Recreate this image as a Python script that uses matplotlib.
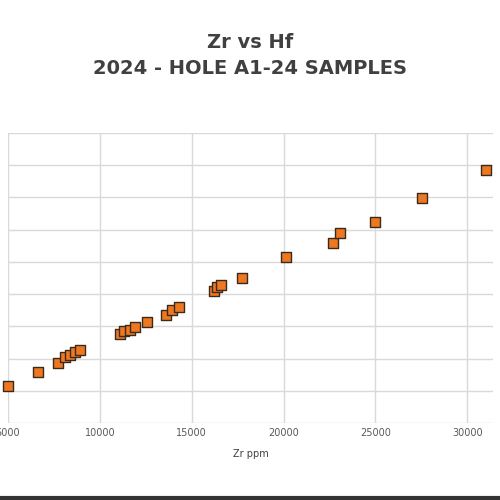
import matplotlib
matplotlib.use("Agg")
import matplotlib.pyplot as plt

zr = [5000, 6630, 7710, 8090, 8360, 8630, 8900, 11070, 11340, 11620, 11890, 12540,
      13620, 13900, 14330, 16220, 16390, 16600, 17740, 20130, 22680, 23060, 24960, 27510, 31030]
hf = [115, 158, 186, 205, 211, 220, 227, 276, 286, 289, 298, 314,
      335, 351, 360, 410, 422, 429, 450, 516, 559, 590, 624, 699, 786]
xticks = [5000, 10000, 15000, 20000, 25000, 30000]
xticklabels = ["5000", "10000", "15000", "20000", "25000", "30000"]

fig = plt.figure(figsize=(5, 5), dpi=100)
ax = fig.add_axes([0.016, 0.154, 0.97, 0.58])
ax.scatter(zr, hf, marker="s", s=60, c="#EE7722", edgecolors="#3a2a1a", linewidths=1.0, zorder=3, clip_on=False)
ax.set_xlim(5000, 31400)
ax.set_ylim(0, 900)
ax.set_xticks(xticks)
ax.set_xticklabels(xticklabels, fontsize=7, color="#595959")
ax.set_yticks(range(0, 901, 100))
ax.set_yticklabels([])
ax.tick_params(length=0)
ax.grid(True, color="#d9d9d9", linewidth=1)
for s in ax.spines.values():
    s.set_visible(False)
ax.set_xlabel("Zr ppm", fontsize=7, color="#404040", labelpad=8)
fig.text(0.5, 0.914, "Zr vs Hf", ha="center", va="center", fontsize=14, fontweight="bold", color="#404040")
fig.text(0.5, 0.862, "2024 - HOLE A1-24 SAMPLES", ha="center", va="center", fontsize=14, fontweight="bold", color="#404040")
fig.add_artist(plt.Line2D([0, 1], [0.005, 0.005], color="#333333", linewidth=3, transform=fig.transFigure))
fig.savefig("out.png", dpi=100)
